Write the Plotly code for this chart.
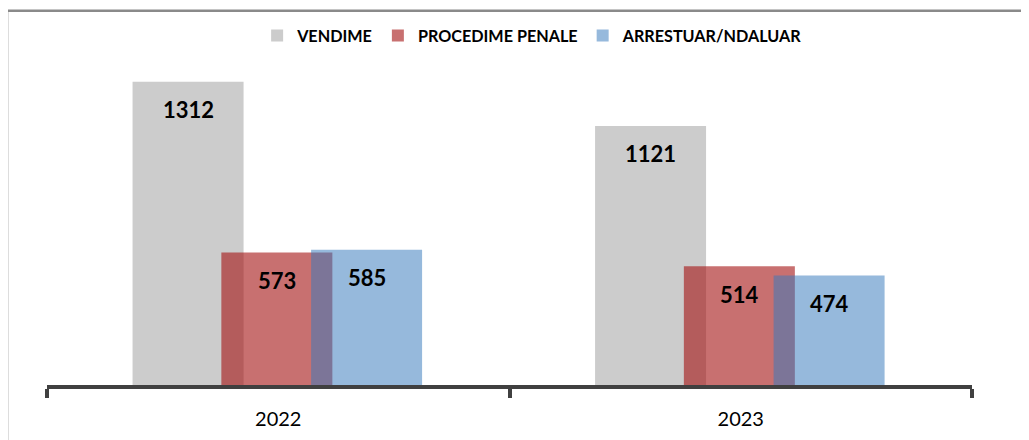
import plotly.graph_objects as go

# ---- data ----
years = ["2022", "2023"]
series_names = ["VENDIME", "PROCEDIME PENALE", "ARRESTUAR/NDALUAR"]
vendime = [1312, 1121]
procedime = [573, 514]
arrestuar = [585, 474]

# ---- styles / positions ----
colors = ["rgb(204,204,204)", "rgba(163,17,17,0.6)", "rgba(57,123,189,0.53)"]
bar_width = 0.24
offsets = [-0.315, -0.123, 0.071]
FONT = "Lato"

fig = go.Figure()
all_values = [vendime, procedime, arrestuar]
for name, vals, col, off in zip(series_names, all_values, colors, offsets):
    fig.add_trace(go.Bar(
        name=name, x=years, y=vals,
        marker=dict(color=col, line=dict(width=0)),
        width=bar_width, offset=off,
    ))

annotations = []
for vals, off in zip(all_values, offsets):
    for i, v in enumerate(vals):
        annotations.append(dict(
            x=i + off + bar_width / 2, y=v, xref="x", yref="y",
            text=str(v), showarrow=False, yshift=-28, yanchor="middle",
            font=dict(family=FONT, size=22, color="black", weight="bold"),
        ))

fig.update_layout(
    width=1029, height=440,
    margin=dict(l=39, r=65, t=52, b=63),
    paper_bgcolor="white", plot_bgcolor="white",
    barmode="overlay",
    showlegend=True,
    legend=dict(orientation="h", x=0.525, xanchor="center", y=1.0738, yanchor="middle",
                font=dict(family=FONT, size=16.2, color="black", weight="bold"),
                traceorder="normal"),
    xaxis=dict(type="category", range=[-0.5, 1.5], showline=True, linecolor="#404040",
               linewidth=4, ticks="outside", tickson="boundaries", ticklen=9,
               tickwidth=4, tickcolor="#404040", showgrid=False, ticklabelstandoff=13,
               tickfont=dict(family=FONT, size=20, color="black")),
    yaxis=dict(range=[0, 1402], visible=False, showgrid=False),
    annotations=annotations,
    shapes=[dict(type="path", xref="paper", yref="paper",
                 path="M -0.0432,-0.3 L -0.0432,1.1554 L 1.1,1.1554",
                 line=dict(color="#8A8A8A", width=2.5))],
)

fig.write_html("out.html")
